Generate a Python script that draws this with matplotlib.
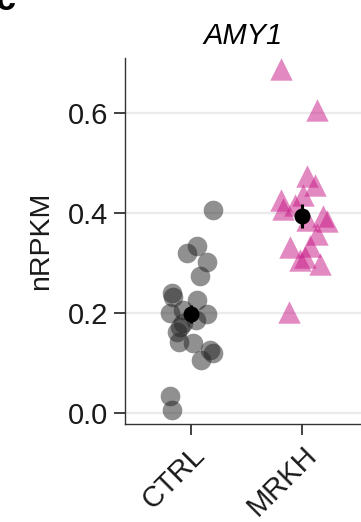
import matplotlib
matplotlib.use("Agg")
import matplotlib.pyplot as plt

plt.rcParams['font.family'] = ['Liberation Sans', 'DejaVu Sans']

title = "AMY1"
groups = ["CTRL", "MRKH"]
ylabel = "nRPKM"
yticks = [0.0, 0.2, 0.4, 0.6]
ytick_labels = ["0.0", "0.2", "0.4", "0.6"]

# jittered x offsets and values
ctrl_x = [0.20, 0.05, -0.04, 0.14, 0.08, -0.17, -0.16, 0.05, -0.19, -0.07, 0.14,
          0.04, -0.07, -0.10, -0.13, -0.11, 0.02, 0.17, 0.20, 0.09, -0.19, -0.17]
ctrl_y = [0.406, 0.334, 0.320, 0.302, 0.274, 0.241, 0.233, 0.226, 0.200, 0.206, 0.198,
          0.186, 0.180, 0.173, 0.163, 0.143, 0.141, 0.126, 0.121, 0.107, 0.034, 0.007]

mrkh_x = [-0.19, 0.13, 0.04, 0.12, 0.01, -0.19, -0.17, -0.06, 0.19, 0.22, 0.04,
          0.13, 0.07, -0.11, -0.02, 0.16, 0.03, -0.12]
mrkh_y = [0.689, 0.606, 0.473, 0.455, 0.435, 0.425, 0.409, 0.416, 0.393, 0.383, 0.385,
          0.359, 0.333, 0.331, 0.307, 0.298, 0.312, 0.203]

means = [0.198, 0.394]
sems = [0.018, 0.024]

fig = plt.figure(figsize=(3.61, 5.22), dpi=100)
ax = fig.add_axes([125/361, 1 - 424/522, 1 - 125/361, 366/522])

ax.scatter([0 + d for d in ctrl_x], ctrl_y, s=200, marker='o', color='#222222',
           alpha=0.5, linewidths=0, zorder=3)
ax.scatter([1 + d for d in mrkh_x], mrkh_y, s=260, marker='^', color='#C71585',
           alpha=0.5, linewidths=0, zorder=3)

ax.errorbar([0, 1], means, yerr=sems, fmt='o', color='black', ms=10.5,
            elinewidth=2.2, capsize=0, zorder=5)

ax.set_xlim(-0.595, 1.53)
ax.set_ylim(-0.022, 0.71)
ax.set_yticks(yticks)
ax.set_yticklabels(ytick_labels)
ax.set_xticks([0, 1])
ax.set_xticklabels(groups, rotation=45, ha='right', rotation_mode='anchor')

ax.yaxis.grid(True, color='#EBEBEB', linewidth=1.6, zorder=0)
ax.set_axisbelow(True)
for s in ['top', 'right']:
    ax.spines[s].set_visible(False)
for s in ['left', 'bottom']:
    ax.spines[s].set_color('#333333')
    ax.spines[s].set_linewidth(1.0)

ax.tick_params(axis='both', length=8, width=1.3, color='#333333',
               labelsize=21, labelcolor='#1a1a1a', pad=4)

ax.set_ylabel(ylabel, fontsize=20.5, color='#1a1a1a', labelpad=10)
ax.set_title(title, fontsize=21, style='italic', x=(243 - 125) / 236, pad=10)

fig.text(16/361, 1 - 10/522, "c", fontsize=26, fontweight='bold', ha='right', va='baseline')

fig.savefig("out.png", dpi=100)
